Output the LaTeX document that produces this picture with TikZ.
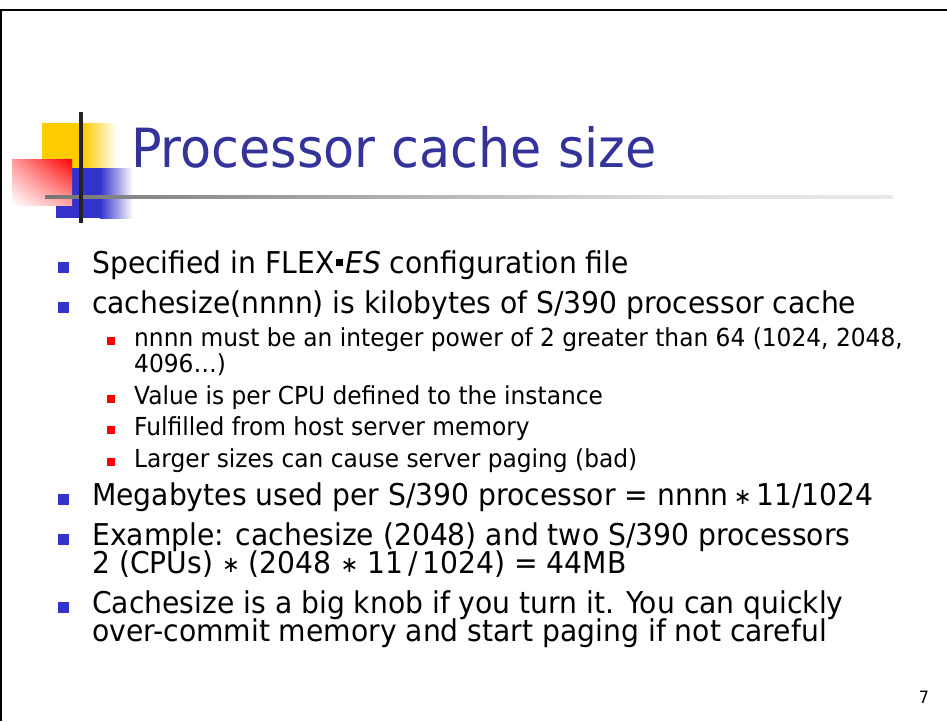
\documentclass[tikz,border=0pt]{standalone}
\usepackage{fontspec}
\setmainfont{DejaVu Sans}[FakeStretch=0.94]
\usetikzlibrary{shadings}
\definecolor{titleblue}{HTML}{333399}
\definecolor{bulletblue}{HTML}{3333CC}
\definecolor{logoyellow}{HTML}{FFCC00}
\definecolor{logoblue}{HTML}{3333CC}
\definecolor{logored}{HTML}{FF0000}
\definecolor{linedark}{HTML}{222222}
\newcommand\flexdot{\kern0.06em\raisebox{0.22em}{\rule{0.24em}{0.24em}}\kern0.06em}
\newcommand\mystar{\raisebox{0.02em}{\scalebox{0.75}{∗}}}
\tikzset{
  x=1pt, y=-1pt,
  maintext/.style={anchor=base west, inner sep=0pt, font=\fontsize{30}{30}\selectfont, text=black},
  subtext/.style={anchor=base west, inner sep=0pt, font=\fontsize{24.8}{24.8}\selectfont, text=black},
  mainbullet/.style={fill=bulletblue, draw=none},
  subbullet/.style={fill=logored, draw=none},
}
\begin{document}
\begin{tikzpicture}
\useasboundingbox (0,0) rectangle (947,721);
\fill[white] (0,0) rectangle (947,721);
% frame
\fill[black] (0,8.5) rectangle (947,11);
\fill[black] (0,8.5) rectangle (2.2,721);
% logo
\fill[logoyellow] (42,123) rectangle (83,168);
\shade[left color=logoyellow, right color=white] (83,123) rectangle (117,168);
\fill[logoblue] (56,168) rectangle (100,218);
\shade[left color=logoblue, right color=white] (100,168) rectangle (133,218);
\shade[upper left=logored!40, upper right=logored, lower left=white, lower right=logored!35] (12,159) rectangle (72,205);
\pgfdeclarehorizontalshading{rulefade}{100bp}{color(0bp)=(linedark); color(30bp)=(linedark!55); color(62bp)=(linedark!15); color(100bp)=(white)}
\shade[shading=rulefade] (45,195.5) rectangle (893,198.5);
\fill[linedark] (79.3,112) rectangle (82.8,223);
% title
\node[anchor=base west, inner sep=0pt, font=\fontsize{54}{54}\selectfont, text=titleblue] (title) at (131,167) {Processor cache size};
% main bullets
\node[maintext] (l1) at (92,273) {Specified in FLEX\flexdot\textit{ES} configuration file};
\node[maintext] (l2) at (92,313) {cachesize(nnnn) is kilobytes of S/390 processor cache};
\node[subtext] (l3) at (134,346) {nnnn must be an integer power of 2 greater than 64 (1024, 2048,};
\node[subtext] (l4) at (134,372) {4096…)};
\node[subtext] (l5) at (134,404) {Value is per CPU defined to the instance};
\node[subtext] (l6) at (134,435) {Fulfilled from host server memory};
\node[subtext] (l7) at (134,467) {Larger sizes can cause server paging (bad)};
\node[maintext] (l8) at (92,505) {Megabytes used per S/390 processor = nnnn\,\mystar\,11/1024};
\node[maintext] (l9) at (92,545) {Example: cachesize (2048) and two S/390 processors};
\node[maintext] (l10) at (92,573) {2 (CPUs) \mystar\ (2048 \mystar\ 11\,/\,1024) = 44MB};
\node[maintext] (l11) at (92,613) {Cachesize is a big knob if you turn it. You can quickly};
\node[maintext] (l12) at (92,641) {over-commit memory and start paging if not careful};
% bullet squares
\foreach \yy in {273,313,505,545,613}{\fill[mainbullet] (58,\yy-11) rectangle (69,\yy);}
\foreach \yy in {346,404,435,467}{\fill[subbullet] (106.5,\yy-9.5) rectangle (115,\yy-1);}
% page number
\node[anchor=base, inner sep=0pt, font=\fontsize{17}{17}\selectfont] (pg) at (924,703) {7};
\end{tikzpicture}
\end{document}
